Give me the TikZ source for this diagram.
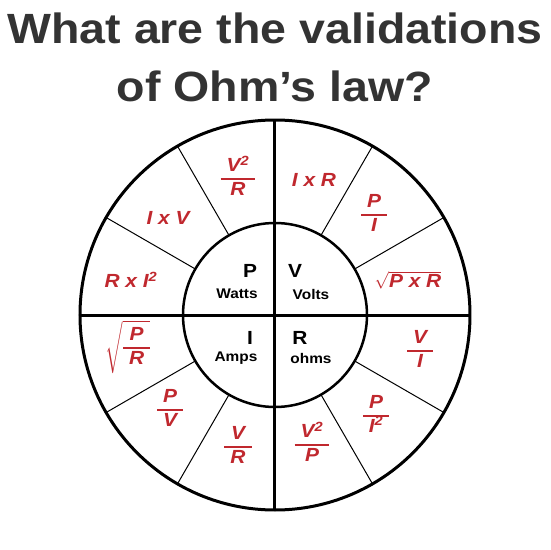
\documentclass[tikz,border=0pt]{standalone}
\usepackage{fontspec}
\setmainfont{Liberation Sans}[FakeStretch=1.1]
\usepackage{amsmath}
\definecolor{ohmred}{HTML}{C0282E}
\definecolor{titlegray}{HTML}{333333}
\newcommand{\ofrac}[2]{{\setlength\arrayrulewidth{1.5pt}\setlength\tabcolsep{6pt}\renewcommand\arraystretch{1.0}\begin{tabular}{c}#1\\\hline #2\end{tabular}}}
\newcommand{\sq}{\textsuperscript{2}}
\begin{document}
\begin{tikzpicture}[
x=1pt, y=1pt,
title/.style={font=\fontsize{42.3}{48}\selectfont\bfseries, text=titlegray},
qty/.style={font=\fontsize{19}{21}\selectfont\bfseries},
unit/.style={font=\fontsize{14}{16}\selectfont\bfseries},
formula/.style={font=\fontsize{19}{22}\selectfont\bfseries\itshape, text=ohmred, inner sep=0pt}
]
\useasboundingbox (-275,-235) rectangle (275,315);
% title
\node[title] (line1) at (0,287) {What are the validations};
\node[title] (line2) at (0,229) {of Ohm’s law?};
% wheel
\draw[line width=3pt] (0,0) circle (195);
\draw[line width=3pt] (-195,0) -- (195,0);
\draw[line width=3pt] (0,-195) -- (0,195);
\fill[white] (0,0) circle (92);
\draw[line width=3pt] (-92,0) -- (92,0);
\draw[line width=3pt] (0,-92) -- (0,92);
\draw[line width=2.5pt] (0,0) circle (92);
\foreach \a in {30,60,120,150,210,240,300,330}
  \draw[line width=1pt] (\a:92) -- (\a:195);
% centre
\node[qty] (p) at (-25,44) {P};
\node[unit] (watts) at (-38,21) {Watts};
\node[qty] (v) at (20,44) {V};
\node[unit] (volts) at (36,21) {Volts};
\node[qty] (i) at (-25,-23) {I};
\node[unit] (amps) at (-39,-43) {Amps};
\node[qty] (r) at (25,-23) {R};
\node[unit] (ohms) at (36,-43) {ohms};
% power
\node[formula] (p1) at (-37,136) {\ofrac{V\sq}{R}};
\node[formula] (p2) at (-107,97) {I x V};
\node[formula] (p3) at (-144,35) {R x I\sq};
% voltage
\node[formula] (v1) at (39,135) {I x R};
\node[formula] (v2) at (99,100) {\ofrac{P}{I}};
\node[formula] (v3) at (133,35) {$\sqrt{\text{P x R}}$};
% current
\node[formula] (i1) at (-147,-32) {$\sqrt{\text{\ofrac{P}{R}}}$};
\node[formula] (i2) at (-105,-95) {\ofrac{P}{V}};
\node[formula] (i3) at (-37,-132) {\ofrac{V}{R}};
% resistance
\node[formula] (r1) at (145,-36) {\ofrac{V}{I}};
\node[formula] (r2) at (101,-101) {\ofrac{P}{I\sq}};
\node[formula] (r3) at (37,-130) {\ofrac{V\sq}{P}};
\end{tikzpicture}
\end{document}
